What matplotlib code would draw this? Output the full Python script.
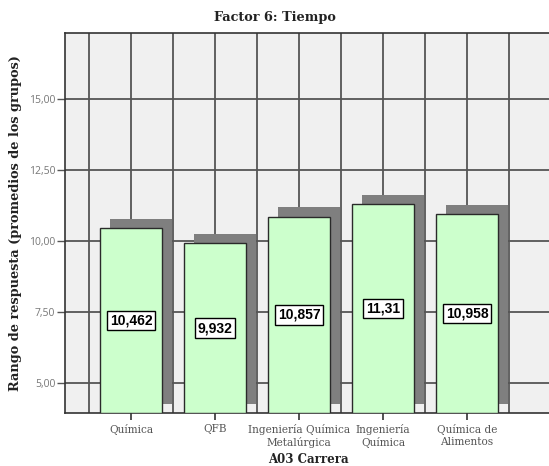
import numpy as np
import matplotlib
matplotlib.use("Agg")
import matplotlib.pyplot as plt
from matplotlib.transforms import ScaledTranslation

# Data
categories = [
    "Química",
    "QFB",
    "Ingeniería Química\nMetalúrgica",
    "Ingeniería\nQuímica",
    "Química de\nAlimentos",
]
values = [10.462, 9.932, 10.857, 11.31, 10.958]
value_labels = ["10,462", "9,932", "10,857", "11,31", "10,958"]
y_ticks = [5.0, 7.5, 10.0, 12.5, 15.0]
y_tick_labels = ["5,00", "7,50", "10,00", "12,50", "15,00"]

Y_MIN, Y_MAX = 3.955, 17.33
GREEN = "#ccffcc"
SHADOW = "#7f7f7f"
GRID = "#555555"

fig = plt.figure(figsize=(5.49, 4.66), dpi=100)
ax = fig.add_axes([65 / 549, 1 - 413 / 466, (551 - 65) / 549, (413 - 33) / 466])
ax.set_facecolor("#f0f0f0")

x = np.arange(len(categories))
bar_width = 0.74
heights = [v - Y_MIN for v in values]

# drop shadow, shifted up and to the right
shift = ScaledTranslation(9.5 / 100, 9.5 / 100, fig.dpi_scale_trans)
ax.bar(x, heights, width=bar_width, bottom=Y_MIN, color=SHADOW,
       edgecolor="none", zorder=2, transform=ax.transData + shift)

ax.bar(x, heights, width=bar_width, bottom=Y_MIN, color=GREEN,
       edgecolor="#2a2a2a", linewidth=1.0, zorder=3)

for xi, v, lab in zip(x, values, value_labels):
    ax.text(xi, (Y_MIN + v) / 2, lab, ha="center", va="center",
            fontsize=10, fontweight="bold", family="Liberation Sans",
            zorder=5,
            bbox=dict(boxstyle="square,pad=0.2", facecolor="white",
                      edgecolor="black", linewidth=1.0))

# grid lines behind the bars
for gx in np.arange(-0.5, 5.0, 0.5):
    ax.axvline(gx, color=GRID, linewidth=1.3, zorder=1)
for gy in y_ticks:
    ax.axhline(gy, color=GRID, linewidth=1.3, zorder=1)

ax.set_xlim(-0.79, 5.0)
ax.set_ylim(Y_MIN, Y_MAX)

ax.set_xticks(x)
ax.set_xticklabels(categories, family="DejaVu Serif", fontsize=7.6,
                   color="#555555", linespacing=1.2)
ax.set_yticks(y_ticks)
ax.set_yticklabels(y_tick_labels, family="Open Sans", fontsize=7.5,
                   color="#777777")
ax.tick_params(axis="x", length=5, width=1.2, color="#333333", pad=3)
ax.tick_params(axis="y", length=6, width=1.0, color="#555555", pad=1)

for side in ["left", "bottom", "top"]:
    ax.spines[side].set_color("#333333")
    ax.spines[side].set_linewidth(1.2)
ax.spines["right"].set_visible(False)

ax.set_xlabel("A03 Carrera", family="DejaVu Serif", fontweight="bold",
              fontsize=8.5, color="#222222", labelpad=4)
ax.set_ylabel("Rango de respuesta (promedios de los grupos)",
              family="DejaVu Serif", fontweight="bold", fontsize=9.3,
              color="#222222", labelpad=5)
fig.text(0.5, 1 - 17 / 466, "Factor 6: Tiempo", ha="center", va="center",
         family="DejaVu Serif", fontweight="bold", fontsize=9.3,
         color="#222222")

fig.savefig("out.png", dpi=100)
